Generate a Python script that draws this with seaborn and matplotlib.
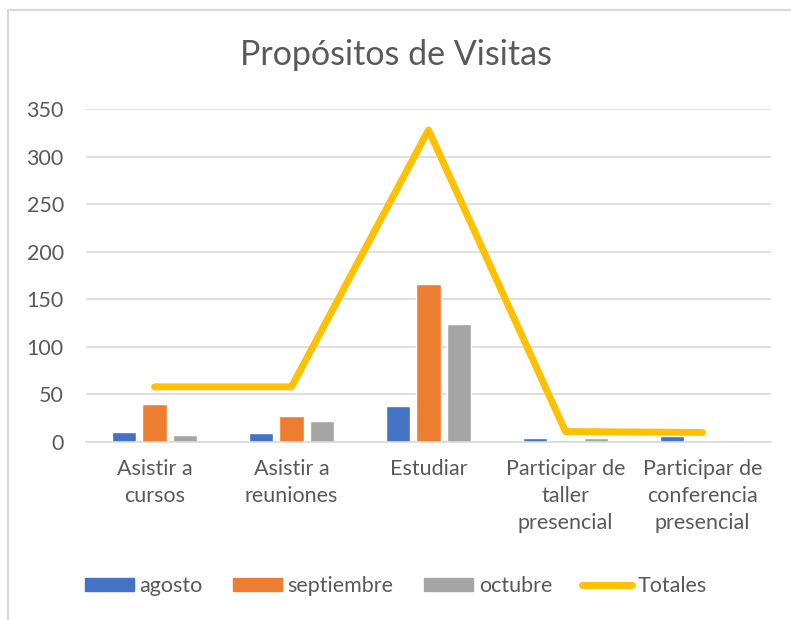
import numpy as np
import pandas as pd
import matplotlib
matplotlib.use("Agg")
import matplotlib.pyplot as plt
from matplotlib.patches import Rectangle
import seaborn as sns

categories = ["Asistir a\ncursos", "Asistir a\nreuniones", "Estudiar",
              "Participar de\ntaller\npresencial", "Participar de\nconferencia\npresencial"]
months = ["agosto", "septiembre", "octubre"]
agosto = [11, 9, 38, 4, 6]
septiembre = [40, 27, 166, 2, 0]
octubre = [7, 22, 124, 4, 2]
totales = [58, 58, 328, 11, 10]
colors = ["#4472C4", "#ED7D31", "#A5A5A5"]
line_color = "#FFC000"
text_color = "#595959"

df = pd.DataFrame({
    "categoria": categories * 3,
    "mes": [m for m in months for _ in categories],
    "valor": agosto + septiembre + octubre,
})

sns.set_style("white")
plt.rcParams["font.family"] = ["Lato", "DejaVu Sans"]

fig = plt.figure(figsize=(7.91, 6.2), dpi=100)
ax = fig.add_axes([86 / 791, 178 / 620, 685 / 791, 333 / 620])

sns.barplot(data=df, x="categoria", y="valor", hue="mes", palette=colors,
            width=0.67, gap=0.21, ax=ax, legend=False, saturation=1)
sns.pointplot(x=categories, y=totales, color=line_color, markers="",
              linewidth=5, errorbar=None, ax=ax)

ax.set_ylim(0, 350)
ax.set_yticks(np.arange(0, 351, 50))
ax.yaxis.grid(True, color="#D9D9D9", lw=1.2)
ax.set_axisbelow(True)
for s in ["top", "right", "left"]:
    ax.spines[s].set_visible(False)
ax.spines["bottom"].set_color("#D9D9D9")
ax.spines["bottom"].set_linewidth(1.2)
ax.tick_params(axis="both", length=0, labelsize=15.5, colors=text_color)
ax.tick_params(axis="y", pad=16)
ax.tick_params(axis="x", pad=12)
for lbl in ax.get_xticklabels():
    lbl.set_linespacing(1.45)
ax.set_xlabel("")
ax.set_ylabel("")
ax.set_xlim(-0.5, 4.5)

fig.text(0.5, 1 - 55 / 620, "Propósitos de Visitas", ha="center", va="center",
         fontsize=24.5, color=text_color)

handles = [Rectangle((0, 0), 1, 1, color=c) for c in colors]
handles.append(plt.Line2D([0], [0], color=line_color, lw=5))
fig.legend(handles, months + ["Totales"], loc="center", bbox_to_anchor=(0.5, 1 - 586 / 620),
           ncol=4, frameon=False, fontsize=15.5, labelcolor=text_color,
           handlelength=2.3, handleheight=0.6, handletextpad=0.25, columnspacing=1.4)

fig.add_artist(Rectangle((8 / 791, -0.1), 1.0, 1.1 - 10 / 620, transform=fig.transFigure,
                         fill=False, edgecolor="#D9D9D9", lw=1.5))

fig.savefig("out.png", dpi=100)
